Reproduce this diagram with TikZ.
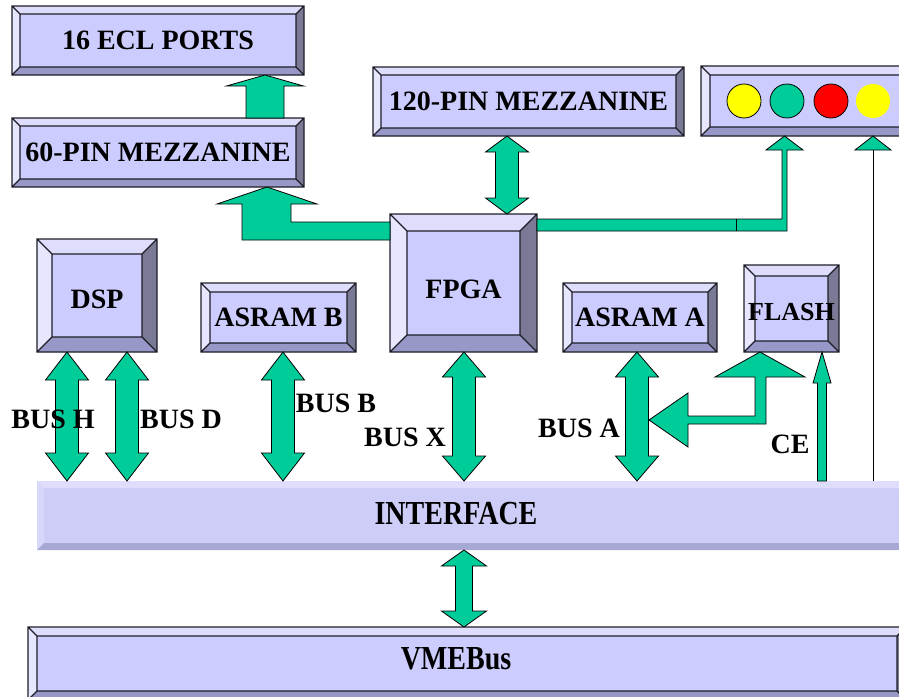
\documentclass[tikz,border=0pt]{standalone}
\usepackage{fontspec}
\setmainfont{Liberation Serif}
\usepackage{graphicx}
\usetikzlibrary{fit,calc}
\definecolor{bface}{RGB}{204,204,255}
\definecolor{btop}{RGB}{222,222,252}
\definecolor{bleft}{RGB}{230,230,255}
\definecolor{bright}{RGB}{122,122,150}
\definecolor{bbot}{RGB}{152,152,200}
\definecolor{outl}{RGB}{30,30,40}
\definecolor{grn}{RGB}{0,204,153}
\definecolor{sface}{RGB}{205,205,248}
\definecolor{stop}{RGB}{222,222,252}
\definecolor{sleft}{RGB}{215,215,250}
\definecolor{sbot}{RGB}{168,168,212}
\definecolor{ledyel}{RGB}{255,255,0}
\definecolor{ledred}{RGB}{255,0,0}
\tikzset{
 bvface/.style={fill=bface}, bvtop/.style={fill=btop}, bvleft/.style={fill=bleft},
 bvright/.style={fill=bright}, bvbot/.style={fill=bbot}, bvline/.style={draw=outl,line width=1.1pt},
 bvstd/.style={bvface/.style={fill=bface}, bvtop/.style={fill=btop}, bvleft/.style={fill=bleft},
   bvright/.style={fill=bright}, bvbot/.style={fill=bbot}, bvline/.style={draw=outl,line width=1.1pt}},
 bvsoft/.style={bvface/.style={fill=sface}, bvtop/.style={fill=stop}, bvleft/.style={fill=sleft},
   bvright/.style={fill=sbot}, bvbot/.style={fill=sbot}, bvline/.style={draw=none}},
 boxtext/.style={font=\bfseries\fontsize{28}{30}\selectfont, text=black, inner sep=0pt},
 grarrow/.style={fill=grn, draw=black, line width=0.8pt, line join=miter},
 thinline/.style={draw=black, line width=0.9pt},
 ledc/.style={circle, minimum size=34pt, inner sep=0pt, draw=black, line width=0.8pt}
}
% #1 style, #2 name, #3 x1, #4 y1, #5 x2, #6 y2, #7 bevel, #8 text, #9 text y offset (down, px)
\newcommand\bevbox[9]{%
\begin{scope}[#1]
 \fill[bvface] (#3,#4) rectangle (#5,#6);
 \fill[bvtop] (#3,#4) -- (#5,#4) -- ({#5-#7},{#4+#7}) -- ({#3+#7},{#4+#7}) -- cycle;
 \fill[bvleft] (#3,#4) -- ({#3+#7},{#4+#7}) -- ({#3+#7},{#6-#7}) -- (#3,#6) -- cycle;
 \fill[bvright] (#5,#4) -- (#5,#6) -- ({#5-#7},{#6-#7}) -- ({#5-#7},{#4+#7}) -- cycle;
 \fill[bvbot] (#3,#6) -- (#5,#6) -- ({#5-#7},{#6-#7}) -- ({#3+#7},{#6-#7}) -- cycle;
 \draw[bvline] (#3,#4) rectangle (#5,#6) ({#3+#7},{#4+#7}) rectangle ({#5-#7},{#6-#7})
   (#3,#4) -- ({#3+#7},{#4+#7}) (#5,#4) -- ({#5-#7},{#4+#7})
   (#3,#6) -- ({#3+#7},{#6-#7}) (#5,#6) -- ({#5-#7},{#6-#7});
 \node[fit={(#3,#4) (#5,#6)}, inner sep=0pt, outer sep=0pt] (#2) {};
 \node[boxtext, yshift=-#9pt] (#2-t) at (#2.center) {#8};
\end{scope}}
% double vertical arrow: #1 top node, #2 bottom node, #3 x, #4 shaft w, #5 head w, #6 head len
\newcommand\vdarrow[6]{%
 \filldraw[grarrow] let \p1=(#1.south), \p2=(#2.north) in
  (#3pt,\y1) -- ({#3pt+#5pt/2},{\y1-#6pt}) -- ({#3pt+#4pt/2},{\y1-#6pt})
  -- ({#3pt+#4pt/2},{\y2+#6pt}) -- ({#3pt+#5pt/2},{\y2+#6pt}) -- (#3pt,\y2)
  -- ({#3pt-#5pt/2},{\y2+#6pt}) -- ({#3pt-#4pt/2},{\y2+#6pt})
  -- ({#3pt-#4pt/2},{\y1-#6pt}) -- ({#3pt-#5pt/2},{\y1-#6pt}) -- cycle;}
% single up arrow: #1 bottom node (start), #2 top node (tip), #3 x, #4 shaft w, #5 head w, #6 head len
\newcommand\uparr[6]{%
 \filldraw[grarrow] let \p1=(#1.north), \p2=(#2.south) in
  ({#3pt-#4pt/2},\y1) -- ({#3pt-#4pt/2},{\y2-#6pt}) -- ({#3pt-#5pt/2},{\y2-#6pt})
  -- (#3pt,\y2) -- ({#3pt+#5pt/2},{\y2-#6pt}) -- ({#3pt+#4pt/2},{\y2-#6pt})
  -- ({#3pt+#4pt/2},\y1) -- cycle;}
\begin{document}
\begin{tikzpicture}[x=1pt,y=-1pt]
\useasboundingbox (0,0) rectangle (899,696);
\fill[white] (0,0) rectangle (899,696);
% boxes
\bevbox{bvstd}{ecl}{12}{6}{304}{75}{8}{16 ECL PORTS}{0}
\bevbox{bvstd}{m60}{12}{118}{304}{187}{8}{60-PIN MEZZANINE}{0}
\bevbox{bvstd}{m120}{373}{67}{684}{136}{8}{120-PIN MEZZANINE}{0}
\bevbox{bvstd}{ledbox}{701}{66}{910}{136}{9}{}{0}
\bevbox{bvstd}{dsp}{37}{239}{157}{352}{15}{DSP}{4}
\bevbox{bvstd}{asramb}{201}{283}{356}{352}{9}{ASRAM B}{0}
\bevbox{bvstd}{fpga}{390}{214}{537}{352}{17}{FPGA}{6}
\bevbox{bvstd}{asrama}{563}{283}{717}{352}{9}{ASRAM A}{0}
\bevbox{bvstd}{flash}{744}{265}{839}{352}{11}{\fontsize{26}{28}\selectfont FLASH}{4}
\bevbox{bvsoft}{iface}{37}{481}{912}{550}{7}{}{0}
\bevbox{bvstd}{vme}{28}{627}{906}{700}{9}{}{0}
\node[boxtext] (tif) at (456,514) {\scalebox{1}[1.2]{INTERFACE}};
\node[boxtext] (tvme) at (456,659) {\scalebox{1}[1.2]{VMEBus}};
% LEDs
\node[ledc, fill=ledyel] (l1) at (744,101) {};
\node[ledc, fill=grn] (l2) at (787,101) {};
\node[ledc, fill=ledred] (l3) at (831,101) {};
\node[ledc, fill=ledyel, draw=none] (l4) at (873,101) {};
% arrows
\uparr{m60}{ecl}{265}{38}{77}{11}
\filldraw[grarrow] let \p1=(m60.south), \p2=(fpga.west) in
 (267pt,\y1) -- (317pt,{\y1-17pt}) -- (291pt,{\y1-17pt}) -- (291pt,-222pt) -- (\x2,-222pt)
 -- (\x2,-240pt) -- (242pt,-240pt) -- (242pt,{\y1-17pt}) -- (217pt,{\y1-17pt}) -- cycle;
\filldraw[grarrow] let \p1=(fpga.east), \p2=(ledbox.south) in
 (\x1,-219pt) -- (782pt,-219pt) -- (782pt,{\y2-14pt}) -- (766pt,{\y2-14pt}) -- (784.5pt,\y2)
 -- (803pt,{\y2-14pt}) -- (787pt,{\y2-14pt}) -- (787pt,-231pt) -- (\x1,-231pt) -- cycle;
\draw[thinline, line width=0.6pt] (736,219) -- (736,231);
\draw[thinline] let \p1=(iface.north), \p2=(ledbox.south) in (873pt,\y1) -- (873pt,{\y2-14pt});
\filldraw[grarrow] let \p2=(ledbox.south) in (873pt,\y2) -- (891pt,{\y2-14pt}) -- (855pt,{\y2-14pt}) -- cycle;
\vdarrow{m120}{fpga}{507}{23}{43}{16}
\vdarrow{dsp}{iface}{67}{23}{43}{28}
\vdarrow{dsp}{iface}{127}{23}{43}{28}
\vdarrow{asramb}{iface}{283}{23}{43}{28}
\vdarrow{fpga}{iface}{464}{23}{43}{25}
\vdarrow{asrama}{iface}{637}{23}{43}{25}
\vdarrow{iface}{vme}{464}{17}{45}{16}
\filldraw[grarrow] let \p1=(flash.south) in
 (760pt,\y1) -- (805pt,{\y1-25pt}) -- (766pt,{\y1-25pt}) -- (766pt,-424pt) -- (688pt,-424pt)
 -- (688pt,-447pt) -- (649pt,-420pt) -- (688pt,-393pt) -- (688pt,-416pt) -- (755pt,-416pt)
 -- (755pt,{\y1-25pt}) -- (715pt,{\y1-25pt}) -- cycle;
\uparr{iface}{flash}{822}{9}{18}{31}
% labels
\node[boxtext] (lbh) at (53,419) {BUS H};
\node[boxtext] (lbd) at (181,419) {BUS D};
\node[boxtext] (lbb) at (336,403) {BUS B};
\node[boxtext] (lbx) at (405,437) {BUS X};
\node[boxtext] (lba) at (579,428) {BUS A};
\node[boxtext] (lce) at (790,444) {CE};
\end{tikzpicture}
\end{document}
